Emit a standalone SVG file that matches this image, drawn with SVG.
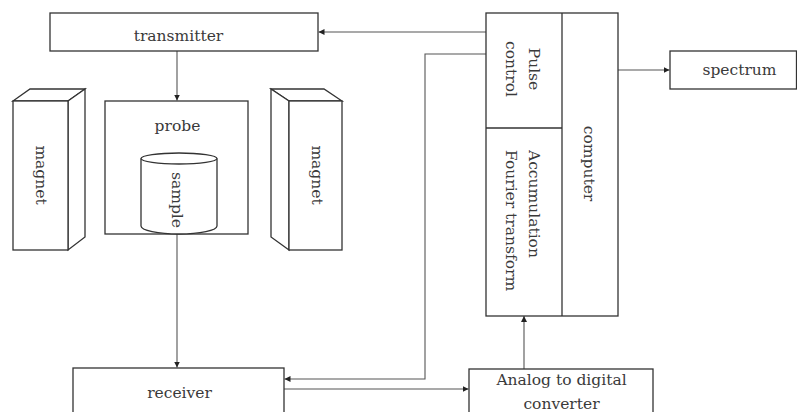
<svg xmlns="http://www.w3.org/2000/svg" width="797" height="412" viewBox="0 0 797 412">
<style>
.box{fill:#fff;stroke:#333;stroke-width:1.3}
.face{fill:#fff;stroke:#333;stroke-width:1.3;stroke-linejoin:miter}
.ln{fill:none;stroke:#555;stroke-width:1.1}
text{font-family:"DejaVu Serif","Liberation Serif",serif;font-size:15.5px;fill:#3a3a3a}
.c{text-anchor:middle}
</style>
<defs>
<marker id="ah" viewBox="0 0 10 10" refX="10" refY="5" markerWidth="6" markerHeight="6" markerUnits="userSpaceOnUse" orient="auto">
<path d="M0,0 L10,5 L0,10 z" fill="#222"/>
</marker>
</defs>
<rect width="797" height="412" fill="#fff"/>

<g id="connectors">
<line class="ln" x1="486" y1="32" x2="318.5" y2="32" marker-end="url(#ah)"/>
<line class="ln" x1="177" y1="51" x2="177" y2="100.5" marker-end="url(#ah)"/>
<line class="ln" x1="177" y1="234" x2="177" y2="367.5" marker-end="url(#ah)"/>
<polyline class="ln" points="486,54 425,54 425,379 284.5,379" marker-end="url(#ah)"/>
<line class="ln" x1="284" y1="389" x2="468.5" y2="389" marker-end="url(#ah)"/>
<line class="ln" x1="524" y1="369" x2="524" y2="316" marker-end="url(#ah)"/>
<line class="ln" x1="618" y1="70" x2="669.5" y2="70" marker-end="url(#ah)"/>
</g>

<g id="transmitter">
<rect class="box" x="50" y="13" width="268" height="38"/>
<text class="c" x="178.5" y="41">transmitter</text>
</g>

<g id="magnet-left">
<polygon class="face" points="13,101 30,89 85,89 68,101"/>
<polygon class="face" points="68,101 85,89 85,237 68,250"/>
<rect class="box" x="13" y="101" width="55" height="149"/>
<text class="c" transform="translate(35.5,175) rotate(90)">magnet</text>
</g>

<g id="magnet-right">
<polygon class="face" points="289,101 271,89 324,89 342,101"/>
<polygon class="face" points="289,101 271,89 271,237 289,250"/>
<rect class="box" x="289" y="101" width="53" height="149"/>
<text class="c" transform="translate(312,175) rotate(90)">magnet</text>
</g>

<g id="probe">
<rect class="box" x="105" y="101" width="143" height="133"/>
<text class="c" x="177.5" y="130.5">probe</text>
</g>

<g id="sample">
<path class="face" d="M141,158.5 L141,226 A38,8 0 0 0 217,226 L217,158.5"/>
<ellipse class="face" cx="179" cy="158.5" rx="38" ry="5.5"/>
<text class="c" transform="translate(172,200) rotate(90)">sample</text>
</g>

<g id="computer">
<rect class="box" x="486" y="13" width="132" height="303"/>
<line class="box" x1="562" y1="13" x2="562" y2="316"/>
<line class="box" x1="486" y1="128" x2="562" y2="128"/>
<text class="c" transform="translate(584,163.5) rotate(90)">computer</text>
</g>

<g id="pulse-control">
<text class="c" transform="translate(528.5,69) rotate(90)">Pulse</text>
<text class="c" transform="translate(506,69) rotate(90)">control</text>
</g>

<g id="accumulation">
<text transform="translate(528.5,150) rotate(90)">Accumulation</text>
<text transform="translate(506,150) rotate(90)">Fourier transform</text>
</g>

<g id="spectrum">
<rect class="box" x="670" y="51" width="126.5" height="38"/>
<text class="c" x="739.5" y="75">spectrum</text>
</g>

<g id="receiver">
<rect class="box" x="73" y="368" width="211" height="60"/>
<text class="c" x="179.5" y="398">receiver</text>
</g>

<g id="adc">
<rect class="box" x="469" y="369" width="184" height="60"/>
<text class="c" x="561.5" y="384.5">Analog to digital</text>
<text class="c" x="561.5" y="408.5">converter</text>
</g>
</svg>
